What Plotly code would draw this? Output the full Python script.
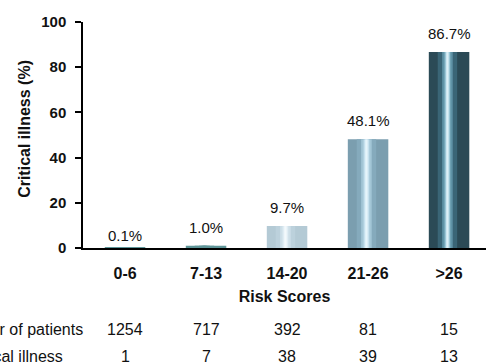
import plotly.graph_objects as go

# Risk score groups and outcomes
risk_groups = ["0-6", "7-13", "14-20", "21-26", ">26"]
critical_pct = [0.1, 1.0, 9.7, 48.1, 86.7]
n_patients = [1254, 717, 392, 81, 15]
n_critical = [1, 7, 38, 39, 13]

FONT = "Liberation Sans, Arial, sans-serif"
INK = "#111111"

# Colour layers per bar, from the outer body to the bright highlight stripe
layers = [
    (0.50, ["#5e9598", "#5e9598", "#b4cad5", "#7b9eaf", "#2b4a56"]),
    (0.24, ["#5e9598", "#5e9598", "#bcd1dc", "#85aabc", "#3a6576"]),
    (0.13, ["#5e9598", "#5e9598", "#cddfe8", "#a3c6d6", "#5f93a6"]),
    (0.07, ["#5e9598", "#5e9598", "#e0edf4", "#c6e1ee", "#9ac6d6"]),
    (0.03, ["#5e9598", "#5e9598", "#f3f9fc", "#e6f5fb", "#dcf0f7"]),
]
stripe_shift = -0.02

fig = go.Figure()
for i, (w, cols) in enumerate(layers):
    shift = 0.0 if i == 0 else stripe_shift
    fig.add_trace(go.Bar(
        x=risk_groups,
        y=critical_pct,
        width=w,
        offset=-w / 2 + shift,
        marker=dict(color=cols, line=dict(width=0)),
        hoverinfo="skip" if i else None,
        showlegend=False,
    ))

# Percentage labels above bars
label_lift = [2, 8, 8, 8, 8]
for g, v, lift in zip(risk_groups, critical_pct, label_lift):
    fig.add_annotation(
        x=g, y=v, xref="x", yref="y", text=f"{v:.1f}%",
        showarrow=False, yanchor="bottom", yshift=lift,
        font=dict(family=FONT, size=15, color=INK),
    )

# Table rows beneath the axis
rows = [("Number of patients", n_patients, -0.36, 0.005),
        ("Critical illness", n_critical, -0.48, -0.0447)]
for name, vals, yp, xlab in rows:
    fig.add_annotation(
        x=xlab, y=yp, xref="paper", yref="paper", text=name,
        showarrow=False, xanchor="right", yanchor="middle",
        font=dict(family=FONT, size=16, color=INK),
    )
    for g, v in zip(risk_groups, vals):
        fig.add_annotation(
            x=g, y=yp, xref="x", yref="paper", text=str(v),
            showarrow=False, xanchor="center", yanchor="middle",
            font=dict(family=FONT, size=16, color=INK),
        )

# Y-axis title
fig.add_annotation(
    x=-0.144, y=0.527, xref="paper", yref="paper",
    text="Critical illness (%)", textangle=-90, showarrow=False,
    xanchor="center", yanchor="middle",
    font=dict(family=FONT, size=16, color=INK, weight="bold"),
)

fig.update_layout(
    width=486, height=363,
    margin=dict(l=83, r=0, t=22, b=115),
    paper_bgcolor="white", plot_bgcolor="white",
    barmode="overlay",
    font=dict(family=FONT, color=INK),
    xaxis=dict(
        type="category",
        range=[-0.519, 4.456],
        showline=True, linecolor="black", linewidth=1.5,
        ticks="", showgrid=False, zeroline=False,
        tickfont=dict(family=FONT, size=16, color=INK, weight="bold"),
        ticklabelstandoff=10,
        title=dict(text="Risk Scores", standoff=10,
                   font=dict(family=FONT, size=16, color=INK, weight="bold")),
    ),
    yaxis=dict(
        range=[0, 100], tickvals=[0, 20, 40, 60, 80, 100],
        showline=True, linecolor="black", linewidth=1.5,
        ticks="outside", ticklen=6, tickwidth=1.5, tickcolor="black",
        showgrid=False, zeroline=False,
        tickfont=dict(family=FONT, size=15, color=INK, weight="bold"),
        ticklabelstandoff=6,
    ),
)

fig.write_html("out.html")
